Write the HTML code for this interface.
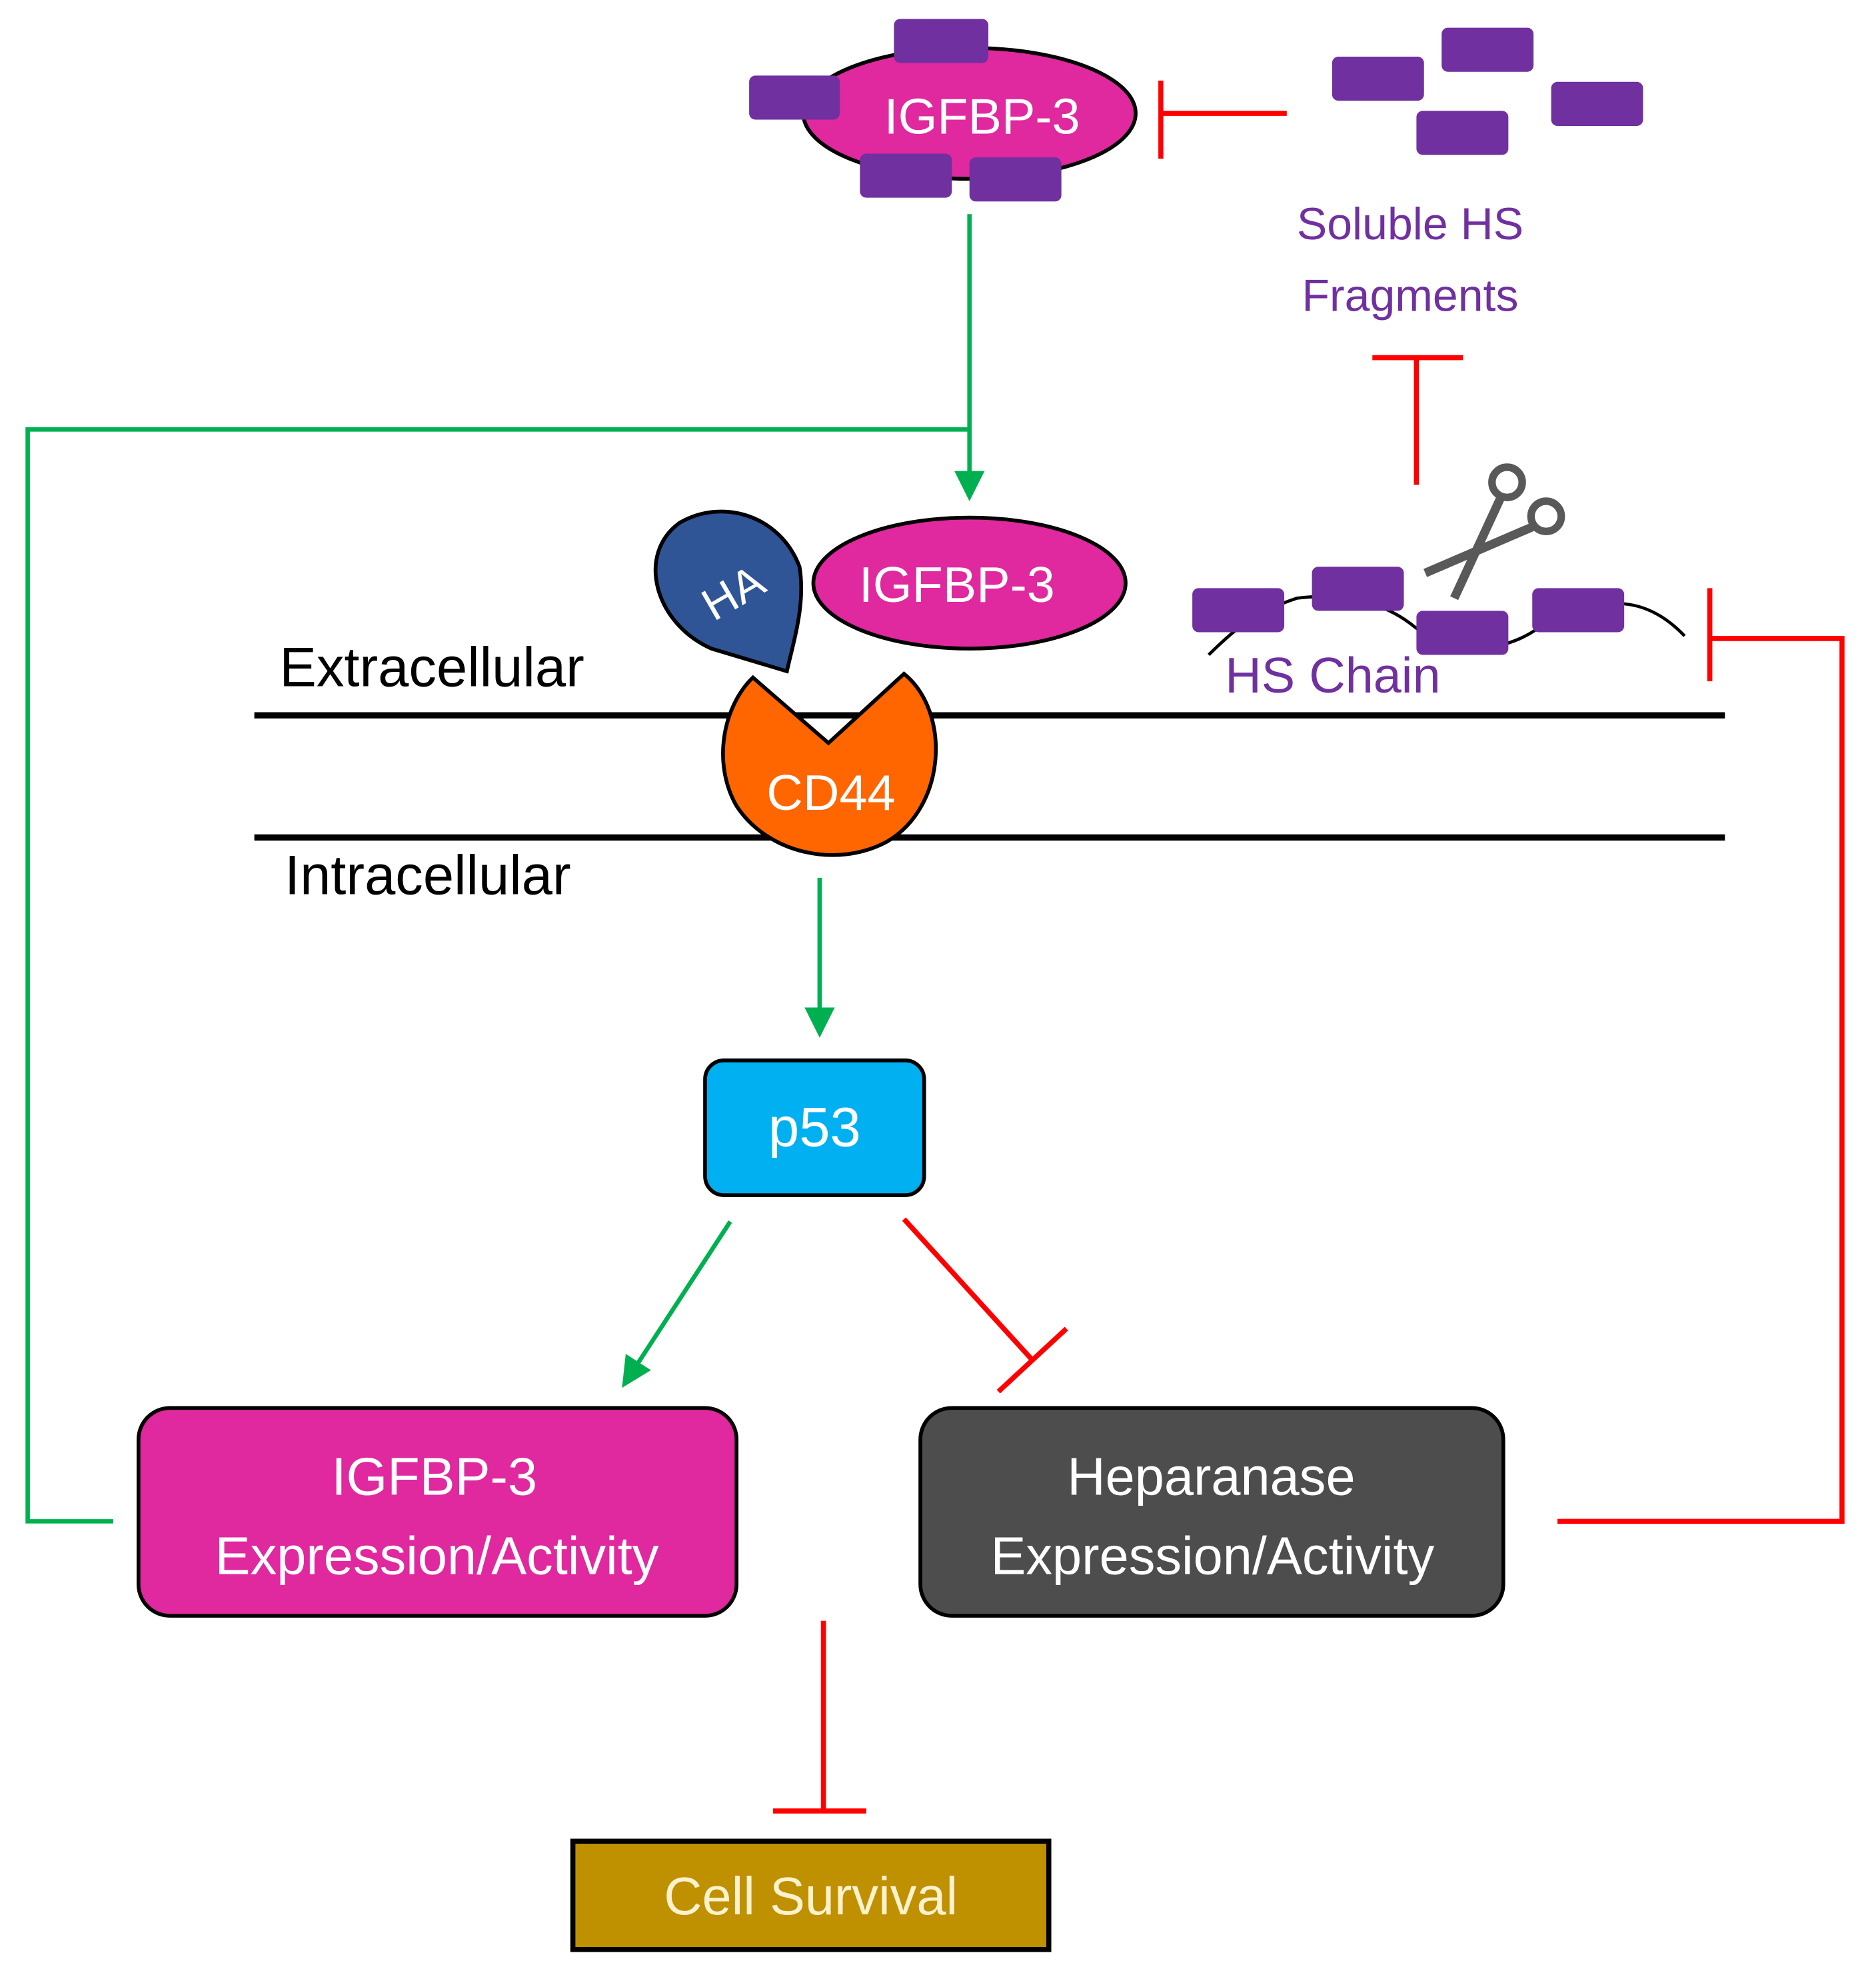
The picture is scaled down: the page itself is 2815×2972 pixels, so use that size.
<!DOCTYPE html>
<html><head><meta charset="utf-8"><style>
html,body{margin:0;padding:0;background:#fff;width:2815px;height:2972px;overflow:hidden}
svg{display:block}
text{font-family:"Liberation Sans",sans-serif}
</style></head><body>
<svg width="2815" height="2972" viewBox="0 0 1490 1573" preserveAspectRatio="none" xmlns="http://www.w3.org/2000/svg">
<defs>
<marker id="ga" markerWidth="8" markerHeight="8" refX="4" refY="7" orient="auto" markerUnits="userSpaceOnUse" viewBox="0 0 8 8"></marker>
</defs>
<!-- top IGFBP-3 complex -->
<ellipse cx="770" cy="90" rx="132" ry="52" fill="#E0289F" stroke="#000" stroke-width="3"/>
<rect x="710" y="15" width="75" height="35" rx="5" fill="#7030A0"/>
<rect x="595" y="60" width="72" height="35" rx="5" fill="#7030A0"/>
<rect x="683" y="122" width="73" height="35" rx="5" fill="#7030A0"/>
<rect x="770" y="125" width="73" height="35" rx="5" fill="#7030A0"/>
<text x="780" y="106" font-size="40" fill="#fff" text-anchor="middle">IGFBP-3</text>
<!-- red inhibit from fragments -->
<g stroke="#FF0000" stroke-width="4" fill="none">
<line x1="1022" y1="90" x2="922" y2="90"/>
<line x1="922" y1="64" x2="922" y2="126"/>
<line x1="1090" y1="284" x2="1162" y2="284"/>
<line x1="1125" y1="284" x2="1125" y2="385"/>
<line x1="1358" y1="467" x2="1358" y2="541"/>
<polyline points="1358,507 1463,507 1463,1208 1237,1208"/>
<line x1="718" y1="968" x2="820" y2="1080"/>
<line x1="793" y1="1105" x2="847" y2="1055"/>
<line x1="654" y1="1287" x2="654" y2="1438"/>
<line x1="614" y1="1438" x2="688" y2="1438"/>
</g>
<rect x="1058" y="45" width="73" height="35" rx="5" fill="#7030A0"/>
<rect x="1145" y="22" width="73" height="35" rx="5" fill="#7030A0"/>
<rect x="1232" y="65" width="73" height="35" rx="5" fill="#7030A0"/>
<rect x="1125" y="88" width="73" height="35" rx="5" fill="#7030A0"/>
<text x="1120" y="190" font-size="36" fill="#7030A0" text-anchor="middle">Soluble HS</text>
<text x="1120" y="247" font-size="36" fill="#7030A0" text-anchor="middle">Fragments</text>
<!-- green lines -->
<g stroke="#00B050" stroke-width="3.5" fill="none">
<line x1="770" y1="170" x2="770" y2="380"/>
<polyline points="770,341 22,341 22,1208 90,1208"/>
<line x1="651" y1="697" x2="651" y2="805"/>
<line x1="580" y1="970" x2="505" y2="1085"/>
</g>
<polygon points="758,374 782,374 770,398" fill="#00B050"/>
<polygon points="639,800 663,800 651,824" fill="#00B050"/>
<polygon points="494,1102 497,1075 517,1088" fill="#00B050"/>
<!-- HA -->
<path d="M625,533 L565,515 C520,495 505,440 540,415 C575,395 620,410 635,450 C640,480 630,510 625,533 Z" fill="#2F5597" stroke="#000" stroke-width="3"/>
<text x="582" y="483" font-size="36" fill="#fff" text-anchor="middle" transform="rotate(-30 582 470)">HA</text>
<!-- IGFBP-3 second -->
<ellipse cx="770" cy="463" rx="124" ry="52" fill="#E0289F" stroke="#000" stroke-width="3"/>
<text x="760" y="478" font-size="40" fill="#fff" text-anchor="middle">IGFBP-3</text>
<text x="222" y="545" font-size="44" fill="#000">Extracellular</text>
<line x1="202" y1="568" x2="1370" y2="568" stroke="#000" stroke-width="5"/>
<line x1="202" y1="665" x2="1370" y2="665" stroke="#000" stroke-width="5"/>
<text x="226" y="710" font-size="44" fill="#000">Intracellular</text>
<!-- CD44 -->
<path d="M598,538 L658,590 L718,535 C755,565 752,640 705,668 C665,690 610,678 585,640 C565,605 575,560 598,538 Z" fill="#FF6600" stroke="#000" stroke-width="3"/>
<text x="660" y="643" font-size="40" fill="#fff" text-anchor="middle">CD44</text>
<!-- HS chain -->
<path d="M960,520 C985,495 1000,485 1030,475 C1070,470 1100,480 1120,495 C1150,520 1190,520 1220,500 C1260,478 1300,465 1338,505" stroke="#000" stroke-width="2.5" fill="none"/>
<rect x="947" y="467" width="73" height="35" rx="5" fill="#7030A0"/>
<rect x="1042" y="450" width="73" height="35" rx="5" fill="#7030A0"/>
<rect x="1125" y="485" width="73" height="35" rx="5" fill="#7030A0"/>
<rect x="1217" y="467" width="73" height="35" rx="5" fill="#7030A0"/>
<text x="973" y="550" font-size="40" fill="#7030A0">HS Chain</text>
<!-- scissors -->
<g stroke="#595959" fill="none">
<circle cx="1197" cy="383" r="12" stroke-width="6"/>
<circle cx="1228" cy="410" r="12" stroke-width="6"/>
<line x1="1192" y1="395" x2="1155" y2="475" stroke-width="7"/>
<line x1="1218" y1="418" x2="1132" y2="455" stroke-width="7"/>
</g>
<!-- p53 -->
<rect x="560" y="842" width="174" height="107" rx="15" fill="#00B0F0" stroke="#000" stroke-width="3"/>
<text x="647" y="910" font-size="44" fill="#fff" text-anchor="middle">p53</text>
<!-- boxes -->
<rect x="110" y="1118" width="475" height="165" rx="25" fill="#E0289F" stroke="#000" stroke-width="3"/>
<text x="345" y="1187" font-size="42" fill="#fff" text-anchor="middle">IGFBP-3</text>
<text x="347" y="1250" font-size="42" fill="#fff" text-anchor="middle">Expression/Activity</text>
<rect x="731" y="1118" width="463" height="165" rx="25" fill="#4D4D4D" stroke="#000" stroke-width="3"/>
<text x="962" y="1187" font-size="42" fill="#fff" text-anchor="middle">Heparanase</text>
<text x="963" y="1250" font-size="42" fill="#fff" text-anchor="middle">Expression/Activity</text>
<rect x="455" y="1462" width="378" height="86" fill="#BF9000" stroke="#000" stroke-width="4"/>
<text x="644" y="1520" font-size="42" fill="#FFF2CC" text-anchor="middle">Cell Survival</text>
</svg>
</body></html>
